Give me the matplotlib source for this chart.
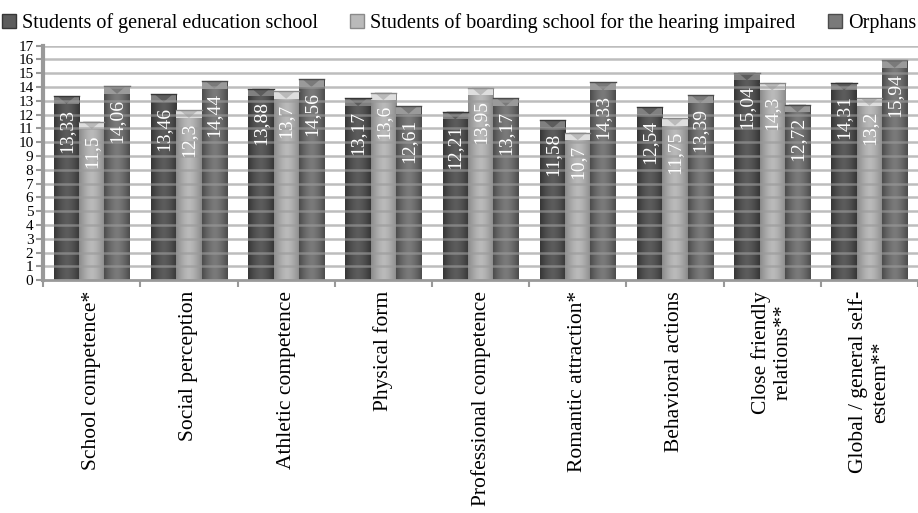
import numpy as np
import matplotlib
matplotlib.use('Agg')
import matplotlib.pyplot as plt
from matplotlib.colors import LinearSegmentedColormap
from matplotlib.patches import Patch, Polygon

plt.rcParams['font.family'] = ['Liberation Serif', 'DejaVu Serif']

# 数据
categories = ['School competence*', 'Social perception', 'Athletic competence',
              'Physical form', 'Professional competence', 'Romantic attraction*',
              'Behavioral actions', 'Close friendly\nrelations**',
              'Global / general self-\nesteem**']
series_names = ['Students of general education school',
                'Students of boarding school for the hearing impaired',
                'Orphans']
general = [13.33, 13.46, 13.88, 13.17, 12.21, 11.58, 12.54, 15.04, 14.31]
hearing = [11.5, 12.3, 13.7, 13.6, 13.95, 10.7, 11.75, 14.3, 13.2]
orphans = [14.06, 14.44, 14.56, 12.61, 13.17, 14.33, 13.39, 12.72, 15.94]
label_text = [
    ['13,33', '13,46', '13,88', '13,17', '12,21', '11,58', '12,54', '15,04', '14,31'],
    ['11,5', '12,3', '13,7', '13,6', '13,95', '10,7', '11,75', '14,3', '13,2'],
    ['14,06', '14,44', '14,56', '12,61', '13,17', '14,33', '13,39', '12,72', '15,94'],
]

# 颜色：边缘 / 中心 / 顶部
shades = [('#363636', '#5c5c5c', '#808080'),
          ('#8a8a8a', '#bababa', '#dedede'),
          ('#4c4c4c', '#7a7a7a', '#9a9a9a')]

fig = plt.figure(figsize=(9.18, 5.13), dpi=100)
ax = fig.add_axes([0.047, 0.454, 0.953, 0.457])

x = np.arange(len(categories))
w = 0.26
grad = np.abs(np.linspace(-1, 1, 60))[None, :] ** 1.5

for i, vals in enumerate([general, hearing, orphans]):
    edge, mid, light = shades[i]
    cmap = LinearSegmentedColormap.from_list('s%d' % i, [mid, edge])
    bars = ax.bar(x + (i - 1) * w, vals, width=w, color=mid, zorder=2)
    for b, lab in zip(bars, label_text[i]):
        x0, x1 = b.get_x(), b.get_x() + b.get_width()
        h = b.get_height()
        im = ax.imshow(grad, extent=(x0, x1, 0, h), cmap=cmap, aspect='auto',
                       zorder=2.1)
        im.set_clip_path(b)
        # 顶部立体效果
        d = 0.55
        ax.add_patch(Polygon([(x0, h), (x1, h), (x1, h - d), (x0, h - d)],
                             closed=True, facecolor=light, edgecolor='none', zorder=2.2))
        xc = (x0 + x1) / 2
        ax.add_patch(Polygon([(x0 + 0.15 * w, h), (x1 - 0.15 * w, h), (xc, h - d)],
                             closed=True, facecolor=mid, edgecolor='none', zorder=2.3))
        ax.plot([x0, x1], [h, h], color=edge, lw=1, zorder=2.4)
        ax.annotate(lab, (xc, h), xytext=(0, -9), textcoords='offset points',
                    rotation=90, ha='center', va='top', color='white',
                    fontsize=14, zorder=4)

ax.set_xlim(-0.5, len(categories) - 0.5)
ax.set_ylim(0, 17)
ax.set_yticks(range(0, 18))
ax.tick_params(axis='y', labelsize=11, length=5, width=1.5, color='#999999', pad=2)
ax.set_xticks(x)
ax.set_xticklabels(categories, rotation=90, fontsize=15.5, va='top',
                   ha='center', multialignment='center')
ax.tick_params(axis='x', length=0, pad=8)
ax.set_xticks(np.arange(-0.5, len(categories), 1), minor=True)
ax.tick_params(axis='x', which='minor', length=5, width=1.5, color='#999999')

# 网格线画在柱子上面
for yv in range(1, 18):
    ax.axhline(yv, color='#9a9a9a', lw=1.8, alpha=0.65, zorder=3)

for s in ['top', 'right']:
    ax.spines[s].set_visible(False)
ax.spines['left'].set_color('#999999')
ax.spines['left'].set_linewidth(3)
ax.spines['bottom'].set_color('#999999')
ax.spines['bottom'].set_linewidth(2)

handles = [Patch(facecolor=shades[i][1], edgecolor=shades[i][0]) for i in range(3)]
fig.legend(handles, series_names, loc='upper center', bbox_to_anchor=(0.5, 1.01),
           ncol=3, frameon=False, fontsize=14.5, handlelength=0.7, handleheight=0.7,
           handletextpad=0.3, columnspacing=1.6)

fig.savefig('out.png', dpi=100)
